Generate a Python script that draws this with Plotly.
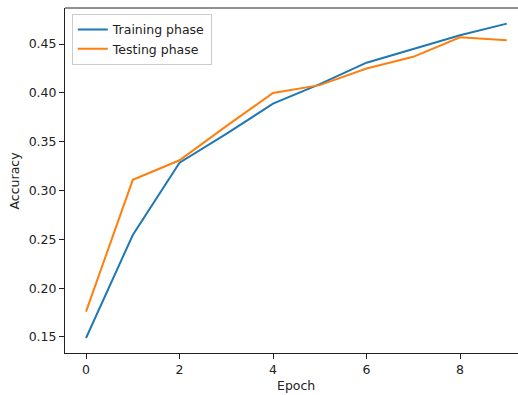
import plotly.graph_objects as go

epochs = [0, 1, 2, 3, 4, 5, 6, 7, 8, 9]
train_acc = [0.149, 0.2545, 0.3285, 0.358, 0.389, 0.409, 0.431, 0.445, 0.459, 0.471]
test_acc = [0.176, 0.311, 0.331, 0.366, 0.400, 0.408, 0.425, 0.437, 0.457, 0.454]
x_ticks = [0, 2, 4, 6, 8]
y_ticks = [0.15, 0.20, 0.25, 0.30, 0.35, 0.40, 0.45]

font = dict(family="DejaVu Sans", size=12.5, color="#222")

L, R, T, B = 65, 0, 8, 42
W, H = 518, 395
pw, ph = W - L - R, H - T - B

fig = go.Figure()
fig.add_trace(go.Scatter(x=epochs, y=train_acc, mode="lines", name="Training phase",
                         line=dict(color="#1f77b4", width=2)))
fig.add_trace(go.Scatter(x=epochs, y=test_acc, mode="lines", name="Testing phase",
                         line=dict(color="#ff7f0e", width=2)))

fig.update_layout(
    width=W, height=H,
    margin=dict(l=L, r=R, t=T, b=B, autoexpand=False),
    paper_bgcolor="white", plot_bgcolor="white",
    font=font,
    showlegend=True,
    legend=dict(x=0.015, y=0.983, xanchor="left", yanchor="top",
                bgcolor="white", bordercolor="#cccccc", borderwidth=1,
                font=dict(family="DejaVu Sans", size=12.5, color="#222"),
                tracegroupgap=0, itemwidth=30),
    xaxis=dict(range=[-0.45, 9.24], tickvals=x_ticks, ticktext=[str(t) for t in x_ticks],
               showgrid=False, zeroline=False, showline=True, linecolor="#222", linewidth=1,
               ticks="outside", ticklen=5, tickcolor="#222", automargin=False),
    yaxis=dict(range=[0.1336, 0.487], tickvals=y_ticks, ticktext=["%.2f" % t for t in y_ticks],
               showgrid=False, zeroline=False, showline=True, linecolor="#222", linewidth=1,
               ticks="outside", ticklen=5, tickcolor="#222", automargin=False),
    shapes=[dict(type="line", xref="paper", yref="paper", x0=0, x1=1, y0=1, y1=1,
                 line=dict(color="#222", width=1))],
    annotations=[
        dict(text="Epoch", xref="paper", yref="paper", x=(296 - L) / pw, y=-(385 - T - ph) / ph,
             xanchor="center", yanchor="middle", showarrow=False, font=font),
        dict(text="Accuracy", xref="paper", yref="paper", x=-(L - 14) / pw, y=0.5,
             xanchor="center", yanchor="middle", showarrow=False, textangle=-90, font=font),
    ],
)

fig.write_html("out.html", config={"displayModeBar": False},
               post_script="document.body.style.margin='0';document.body.style.overflow='hidden';")
